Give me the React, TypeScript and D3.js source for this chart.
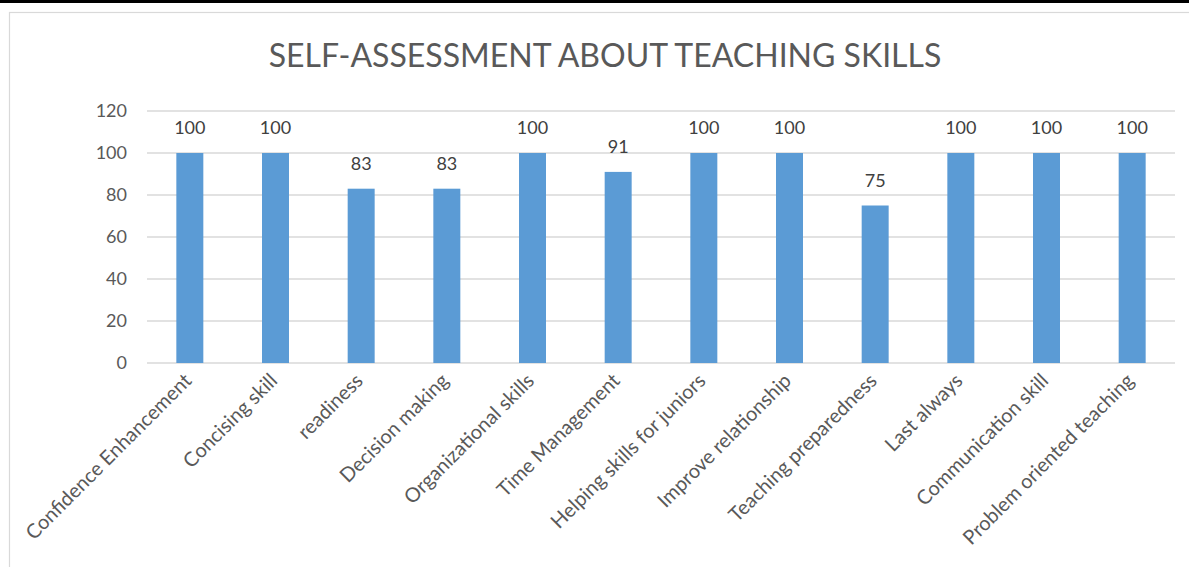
import React, { useEffect, useRef } from 'react'
import * as d3 from 'd3'

const categories = [
  'Confidence Enhancement',
  'Concising skill',
  'readiness',
  'Decision making',
  'Organizational skills',
  'Time Management',
  'Helping skills for juniors',
  'Improve relationship',
  'Teaching preparedness',
  'Last always',
  'Communication skill',
  'Problem oriented teaching',
]
const scores = [100, 100, 83, 83, 100, 91, 100, 100, 75, 100, 100, 100]
const yTicks = [0, 20, 40, 60, 80, 100, 120]
const chartTitle = 'SELF-ASSESSMENT ABOUT TEACHING SKILLS'

const W = 1189
const H = 567
const FONT = 'Lato, "Open Sans", sans-serif'
const TEXT = '#595959'

export default function App() {
  const ref = useRef<SVGSVGElement>(null)

  useEffect(() => {
    const svg = d3.select(ref.current)
    svg.selectAll('*').remove()

    // page strip + chart frame
    svg.append('rect').attr('x', 0).attr('y', 0).attr('width', W).attr('height', 3).attr('fill', '#000')
    svg.append('rect')
      .attr('x', 9.5).attr('y', 12.5).attr('width', W + 20).attr('height', H)
      .attr('fill', '#fff').attr('stroke', '#d9d9d9').attr('stroke-width', 1.2)

    svg.append('text')
      .attr('x', 605).attr('y', 67)
      .attr('text-anchor', 'middle')
      .style('font-family', FONT).style('font-size', '32px')
      .attr('fill', TEXT)
      .text(chartTitle)

    const x = d3.scaleBand().domain(categories).range([147, 1175]).paddingInner(0.685).paddingOuter(0.3425)
    const y = d3.scaleLinear().domain([0, 120]).range([363, 111])

    const grid = svg.append('g')
    grid.selectAll('line').data(yTicks).enter().append('line')
      .attr('x1', 147).attr('x2', 1175)
      .attr('y1', d => y(d)).attr('y2', d => y(d))
      .attr('stroke', '#d9d9d9').attr('stroke-width', 1.3)

    svg.append('g').selectAll('text').data(yTicks).enter().append('text')
      .attr('x', 127).attr('y', d => y(d) + 6)
      .attr('text-anchor', 'end')
      .style('font-family', FONT).style('font-size', '18px')
      .attr('fill', TEXT)
      .text(d => d)

    svg.append('g').selectAll('rect').data(scores).enter().append('rect')
      .attr('x', (d, i) => x(categories[i])!)
      .attr('y', d => y(d))
      .attr('width', x.bandwidth())
      .attr('height', d => y(0) - y(d))
      .attr('fill', '#5b9bd5')

    svg.append('g').selectAll('text').data(scores).enter().append('text')
      .attr('x', (d, i) => x(categories[i])! + x.bandwidth() / 2)
      .attr('y', d => y(d) - 19)
      .attr('text-anchor', 'middle')
      .style('font-family', FONT).style('font-size', '18px')
      .attr('fill', '#404040')
      .text(d => d)

    svg.append('g').selectAll('text').data(categories).enter().append('text')
      .attr('transform', d => {
        const cx = x(d)! + x.bandwidth() / 2 + 3
        return 'translate(' + cx + ',' + 382 + ') rotate(-45)'
      })
      .attr('text-anchor', 'end')
      .style('font-family', FONT).style('font-size', '20px')
      .attr('fill', TEXT)
      .text(d => d)
  }, [])

  return (
    <svg ref={ref} width={W} height={H} style={{ position: 'absolute', left: 0, top: 0, background: '#fff' }} />
  )
}
